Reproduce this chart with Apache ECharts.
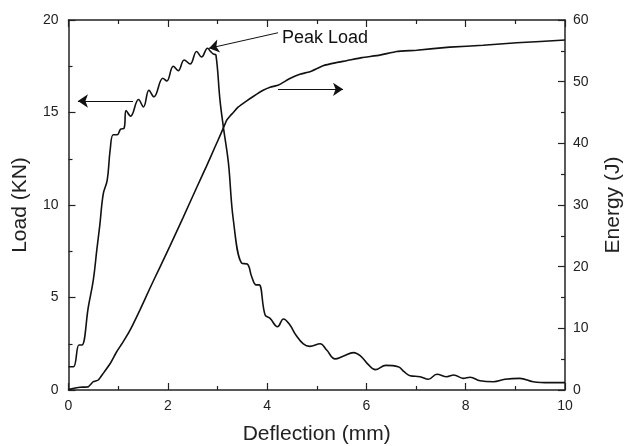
<!DOCTYPE html>
<html>
<head>
<meta charset="utf-8">
<script src="https://cdn.jsdelivr.net/npm/echarts@6/dist/echarts.min.js"></script>
<style>
  html, body { margin: 0; padding: 0; background: #fff; }
</style>
</head>
<body>
<div id="main" style="width: 627px; height: 446px;"></div>
<script>
// load curve
var loadDefl = [0, 0.1, 0.21, 0.27, 0.40, 0.50, 0.57, 0.63, 0.70, 0.78, 0.84, 0.90, 0.98, 1.05, 1.12, 1.16, 1.25, 1.41, 1.51, 1.62,
  1.72, 1.90, 1.98, 2.11, 2.21, 2.33, 2.45, 2.58, 2.68, 2.80, 2.86, 2.92, 2.97, 3.05, 3.12, 3.22, 3.32, 3.49, 3.60, 3.69,
  3.78, 3.84, 3.96, 4.06, 4.21, 4.33, 4.46, 4.58, 4.73, 4.86, 5.07, 5.20, 5.37, 5.53, 5.74, 5.89, 6.04, 6.18, 6.39, 6.64,
  6.76, 6.88, 7.08, 7.25, 7.42, 7.62, 7.76, 7.95, 8.09, 8.29, 8.56, 8.79, 9.09, 9.36, 9.70, 10.0];
var loadKN = [1.26, 1.26, 2.43, 2.43, 4.5, 5.95, 7.57, 8.9, 10.6, 11.35, 13.0, 13.8, 13.8, 14.1, 14.15, 15.1, 14.8, 15.7, 15.3, 16.2,
  15.85, 16.85, 16.7, 17.5, 17.26, 17.84, 17.62, 18.3, 18.0, 18.47, 18.3, 18.16, 18.1, 15.7, 14.2, 12.3, 9.19, 6.85, 6.81, 6.12,
  5.68, 5.68, 4.05, 3.87, 3.42, 3.84, 3.51, 2.97, 2.49, 2.36, 2.5, 2.16, 1.68, 1.82, 2.02, 1.82, 1.37, 1.1, 1.33, 1.26,
  0.99, 0.77, 0.72, 0.58, 0.85, 0.72, 0.81, 0.63, 0.69, 0.5, 0.45, 0.58, 0.63, 0.45, 0.4, 0.4];

// energy curve
var energyDefl = [0, 0.02, 0.23, 0.40, 0.50, 0.60, 0.70, 0.84, 0.97, 1.10, 1.24, 1.44, 1.64, 1.84, 2.04, 2.31, 2.58, 2.78, 2.95, 3.05,
  3.19, 3.25, 3.32, 3.42, 3.59, 3.72, 3.92, 4.06, 4.23, 4.46, 4.66, 4.86, 5.13, 5.40, 5.60, 5.91, 6.27, 6.61, 7.01, 7.68,
  8.35, 9.03, 10.0];
var energyJ = [0, 0.1, 0.44, 0.54, 1.35, 1.62, 2.7, 4.3, 6.2, 7.8, 9.7, 13.0, 16.5, 19.9, 23.3, 28.0, 32.8, 36.3, 39.4, 41.2,
  43.8, 44.4, 45.0, 45.9, 46.9, 47.6, 48.6, 49.1, 49.45, 50.5, 51.2, 51.6, 52.6, 53.1, 53.4, 53.9, 54.3, 54.9, 55.1, 55.6,
  55.9, 56.3, 56.75];

var xTicks = [0, 2, 4, 6, 8, 10];
var loadTicks = [0, 5, 10, 15, 20];
var energyTicks = [0, 10, 20, 30, 40, 50, 60];

function zip(a, b) {
  var out = [];
  for (var i = 0; i < a.length; i++) out.push([a[i], b[i]]);
  return out;
}

var font = 'Liberation Sans, Arial, Helvetica, sans-serif';
var axisColor = '#222';
var ink = '#111';

function axisBase(extra) {
  var base = {
    axisLine: { show: true, onZero: false, lineStyle: { color: axisColor, width: 1.5 } },
    axisTick: { show: true, inside: true, length: 7, lineStyle: { color: axisColor, width: 1.2 } },
    minorTick: { show: true, splitNumber: 2, length: 4, lineStyle: { color: axisColor, width: 1.2 } },
    splitLine: { show: false },
    axisLabel: { color: '#222', fontSize: 14, fontFamily: font },
    nameTextStyle: { color: '#222', fontSize: 21, fontFamily: font }
  };
  for (var k in extra) base[k] = extra[k];
  return base;
}

var arrowLine = {
  silent: true,
  symbol: ['none', 'arrow'],
  symbolSize: 10,
  label: { show: false },
  lineStyle: { color: ink, width: 1, type: 'solid' }
};

var myChart = echarts.init(document.getElementById('main'));

var option = {
  animation: false,
  backgroundColor: '#fff',
  grid: { left: 68.5, right: 62, top: 20, bottom: 56, containLabel: false, outerBoundsMode: 'none' },
  xAxis: [
    axisBase({
      type: 'value', min: 0, max: 10, interval: 2,
      name: 'Deflection (mm)', nameLocation: 'middle', nameGap: 34,
      axisLabel: { color: '#222', fontSize: 14, fontFamily: font, margin: 9,
        formatter: function (v) { return xTicks.indexOf(v) >= 0 ? String(v) : ''; } }
    }),
    axisBase({
      type: 'value', min: 0, max: 10, interval: 2, position: 'top',
      axisLabel: { show: false }
    })
  ],
  yAxis: [
    axisBase({
      type: 'value', min: 0, max: 20, interval: 5, position: 'left',
      name: 'Load (KN)', nameLocation: 'middle', nameGap: 38,
      axisLabel: { color: '#222', fontSize: 14, fontFamily: font, margin: 10,
        formatter: function (v) { return loadTicks.indexOf(v) >= 0 ? String(v) : ''; } }
    }),
    axisBase({
      type: 'value', min: 0, max: 60, interval: 10, position: 'right',
      name: 'Energy (J)', nameLocation: 'middle', nameGap: 38,
      axisLabel: { color: '#222', fontSize: 14, fontFamily: font, margin: 8,
        formatter: function (v) { return energyTicks.indexOf(v) >= 0 ? String(v) : ''; } }
    })
  ],
  series: [
    {
      name: 'Load',
      type: 'line',
      xAxisIndex: 0,
      yAxisIndex: 0,
      data: zip(loadDefl, loadKN),
      smooth: 0.4,
      showSymbol: false,
      lineStyle: { color: ink, width: 1.6 },
      markLine: Object.assign({}, arrowLine, {
        data: [
          [{ coord: [1.30, 15.62] }, { coord: [0.19, 15.62] }],
          [{ coord: [4.22, 19.31] }, { coord: [2.83, 18.47] }]
        ]
      }),
      markPoint: {
        silent: true,
        symbol: 'circle',
        symbolSize: 1,
        itemStyle: { color: 'rgba(0,0,0,0)' },
        label: { show: true, position: 'right', distance: 0, formatter: 'Peak Load',
          color: '#111', fontSize: 18, fontFamily: font },
        data: [{ coord: [4.29, 19.03] }]
      }
    },
    {
      name: 'Energy',
      type: 'line',
      xAxisIndex: 0,
      yAxisIndex: 1,
      data: zip(energyDefl, energyJ),
      smooth: 0.15,
      showSymbol: false,
      lineStyle: { color: ink, width: 1.6 },
      markLine: Object.assign({}, arrowLine, {
        data: [
          [{ coord: [4.22, 48.76] }, { coord: [5.53, 48.76] }]
        ]
      })
    }
  ]
};

myChart.setOption(option);
</script>
</body>
</html>
